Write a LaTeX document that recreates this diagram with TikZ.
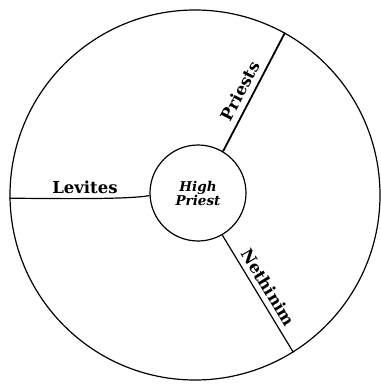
\documentclass[tikz,border=0pt]{standalone}
\usepackage{fontspec}
\setmainfont{DejaVu Serif}
\usepackage{tikz}
\usetikzlibrary{positioning}

\begin{document}
\begin{tikzpicture}[x=1pt, y=1pt, line width=1.2pt,
    every node/.style={font=\fontsize{16.5}{19}\selectfont\bfseries}]
  \useasboundingbox (0,0) rectangle (380,-385);
  \node[draw, circle, minimum size=370pt] (outer) at (195,-195) {};
  \node[draw, circle, minimum size=96pt, inner sep=0pt, align=center,
        font=\fontsize{13.5}{14}\selectfont\bfseries\itshape] (high) at (198,-193) {High\\Priest};
  \draw[line width=1.8pt] (high.59) -- node[pos=0.46, sloped, above=2pt] {Priests} (outer.61);
  \draw (high.-60) -- node[pos=0.5, sloped, above=2pt] {Nethinim} (outer.-58.5);
  \draw (high.183) to[out=192, in=0, looseness=0.4] node[pos=0.47, above=1pt] {Levites} (outer.181);
\end{tikzpicture}
\end{document}
